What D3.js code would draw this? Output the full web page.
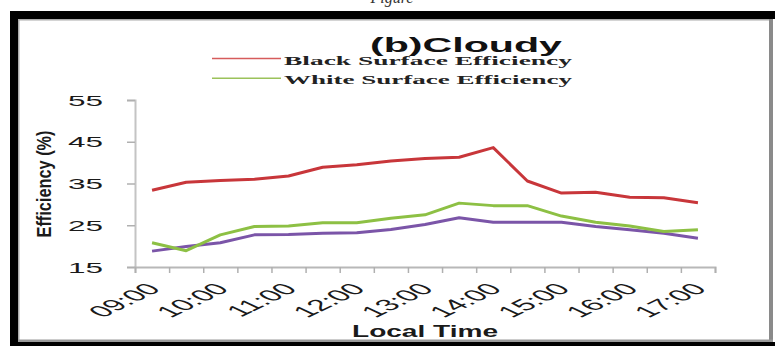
<!DOCTYPE html>
<html><head><meta charset="utf-8">
<script src="https://cdn.jsdelivr.net/npm/d3@7/dist/d3.min.js"></script>
<style>html,body{margin:0;padding:0;background:#fff;}svg{display:block;}</style>
</head><body>
<script>
const categories = ["09:00","09:30","10:00","10:30","11:00","11:30","12:00","12:30","13:00","13:30","14:00","14:30","15:00","15:30","16:00","16:30","17:00"];
const blackSurface = [33.4,35.3,35.7,36.0,36.8,38.9,39.5,40.4,41.0,41.3,43.6,35.6,32.7,32.9,31.7,31.6,30.4];
const whiteSurface = [20.8,18.9,22.7,24.7,24.8,25.6,25.6,26.7,27.5,30.3,29.7,29.7,27.2,25.7,24.8,23.5,23.9];
const thirdSeries  = [18.8,19.9,20.8,22.7,22.8,23.1,23.2,24.0,25.2,26.8,25.7,25.7,25.7,24.7,23.9,23.1,21.9];
const yTicks = [15,25,35,45,55];
const xLabels = ["09:00","10:00","11:00","12:00","13:00","14:00","15:00","16:00","17:00"];
const seriesNames = ["Black Surface Efficiency","White Surface Efficiency"];

const W = 775, H = 346;
const svg = d3.select("body").append("svg").attr("width", W).attr("height", H);
svg.append("rect").attr("width", W).attr("height", H).attr("fill", "#fff");

// clipped caption above the frame
svg.append("text").attr("x", 392).attr("y", 3).attr("text-anchor", "middle")
  .attr("font-family", "Liberation Serif").attr("font-style", "italic").attr("font-size", 16)
  .attr("fill", "#333").text("Figure");

// frame
svg.append("rect").attr("x", 10).attr("y", 11).attr("width", 765).attr("height", 8).attr("fill", "#000");
svg.append("rect").attr("x", 10).attr("y", 11).attr("width", 8).attr("height", 335).attr("fill", "#000");
svg.append("rect").attr("x", 10).attr("y", 342).attr("width", 765).attr("height", 4).attr("fill", "#000");
svg.append("rect").attr("x", 18).attr("y", 19).attr("width", 751).attr("height", 1.5).attr("fill", "#aaa");
svg.append("rect").attr("x", 18).attr("y", 19).attr("width", 1.5).attr("height", 323).attr("fill", "#aaa");
svg.append("rect").attr("x", 769).attr("y", 19).attr("width", 4).attr("height", 323).attr("fill", "#8a8a8a");
svg.append("rect").attr("x", 18).attr("y", 339.5).attr("width", 755).attr("height", 2.5).attr("fill", "#9a9a9a");

const x0 = 135, x1 = 715, yTop = 100, yBot = 267;
const x = d3.scalePoint().domain(categories).range([x0, x1]).padding(0.5);
const xb = d3.scaleLinear().domain([0, categories.length]).range([x0, x1]);
const y = d3.scaleLinear().domain([15, 55]).range([yBot, yTop]);

// y axis
const yAxis = svg.append("g").attr("transform", `translate(${x0},0)`)
  .call(d3.axisLeft(y).tickValues(yTicks).tickSize(8).tickPadding(24));
yAxis.select(".domain").attr("stroke", "#c4c4c4").attr("stroke-width", 2);
yAxis.selectAll(".tick line").attr("stroke", "#b0b0b0").attr("stroke-width", 1.5);
yAxis.selectAll(".tick text").attr("font-family", "Liberation Sans").attr("font-size", 14)
  .attr("fill", "#1a1a1a").attr("dy", "0.36em")
  .attr("textLength", 35).attr("lengthAdjust", "spacingAndGlyphs");

// x axis (tick marks at category boundaries)
const xAxis = svg.append("g").attr("transform", `translate(0,${yBot})`)
  .call(d3.axisBottom(xb).tickValues(d3.range(categories.length + 1)).tickSize(6).tickFormat(""));
xAxis.select(".domain").attr("stroke", "#b8b8b8").attr("stroke-width", 2);
xAxis.selectAll(".tick line").attr("stroke", "#b0b0b0").attr("stroke-width", 1.5);

// x labels
svg.append("g").selectAll("text").data(xLabels).join("text")
  .attr("transform", d => `translate(${x(d) + 10},290) scale(2.1,1) rotate(-45)`)
  .attr("text-anchor", "end").attr("font-family", "Liberation Sans").attr("font-size", 16)
  .attr("fill", "#1a1a1a").text(d => d);

// axis titles
svg.append("text").attr("x", 425).attr("y", 337).attr("text-anchor", "middle")
  .attr("font-family", "Liberation Sans").attr("font-weight", "bold").attr("font-size", 16)
  .attr("fill", "#1a1a1a").attr("textLength", 146).attr("lengthAdjust", "spacingAndGlyphs").text("Local Time");
svg.append("text").attr("transform", "translate(51,184) scale(1.3,1) rotate(-90)")
  .attr("text-anchor", "middle").attr("font-family", "Liberation Sans").attr("font-weight", "bold")
  .attr("font-size", 15).attr("fill", "#1a1a1a").attr("textLength", 107)
  .attr("lengthAdjust", "spacingAndGlyphs").text("Efficiency (%)");

// title
svg.append("text").attr("x", 370).attr("y", 52).attr("font-family", "Liberation Sans")
  .attr("font-weight", "bold").attr("font-size", 20).attr("fill", "#111")
  .attr("textLength", 192).attr("lengthAdjust", "spacingAndGlyphs").text("(b)Cloudy");

// legend
const legColors = ["#d65c5c", "#9bc25a"];
const legY = [58.5, 78.3];
seriesNames.forEach((n, i) => {
  svg.append("line").attr("x1", 212).attr("x2", 281).attr("y1", legY[i]).attr("y2", legY[i])
    .attr("stroke", legColors[i]).attr("stroke-width", 1.6);
  svg.append("text").attr("x", 284).attr("y", legY[i] + 6).attr("font-family", "Liberation Serif")
    .attr("font-weight", "bold").attr("font-size", 13).attr("fill", "#222")
    .attr("textLength", 288).attr("lengthAdjust", "spacingAndGlyphs").text(n);
});

// series
const line = d3.line().x((d, i) => x(categories[i])).y(d => y(d));
const series = [
  {values: thirdSeries, color: "#7b55a8"},
  {values: whiteSurface, color: "#8dc044"},
  {values: blackSurface, color: "#c8363a"}
];
svg.append("g").selectAll("path").data(series).join("path")
  .attr("d", d => line(d.values)).attr("fill", "none").attr("stroke", d => d.color)
  .attr("stroke-width", 3).attr("stroke-linejoin", "round");
</script>
</body></html>
